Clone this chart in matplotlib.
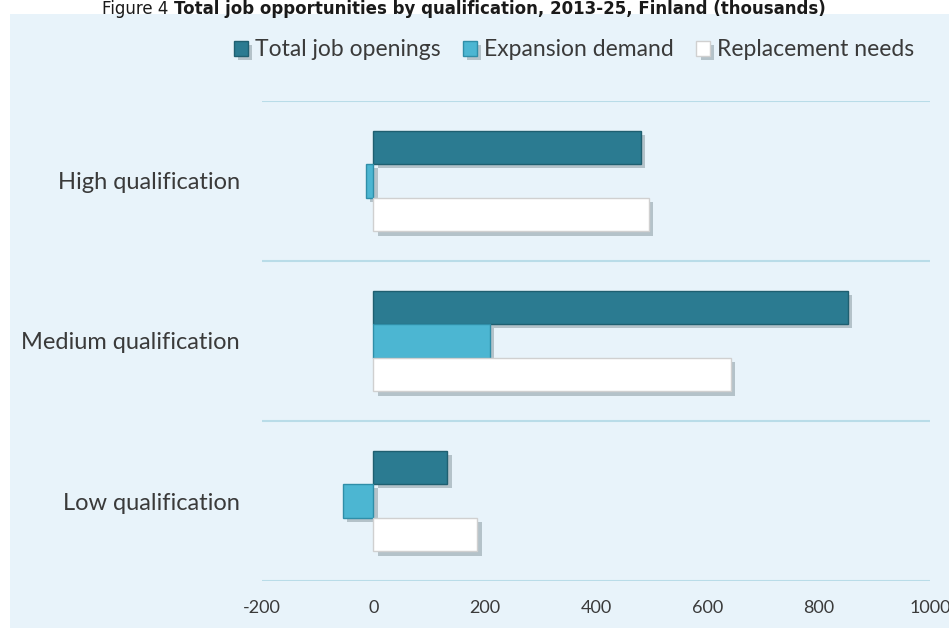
import matplotlib
matplotlib.use("Agg")
import matplotlib.pyplot as plt
import matplotlib.patheffects as pe
from matplotlib.patches import Rectangle
import numpy as np

categories = ["Low qualification", "Medium qualification", "High qualification"]
total_openings = [133, 853, 481]
expansion_demand = [-54, 210, -14]
replacement_needs = [187, 643, 495]
x_ticks = [-200, 0, 200, 400, 600, 800, 1000]

series_names = ["Total job openings", "Expansion demand", "Replacement needs"]
colors = ["#2b7b91", "#4cb6d2", "#ffffff"]
edge_colors = ["#1f5f70", "#2f8ea8", "#d0d0d0"]
bg = "#e8f3fa"
text_color = "#3a3a3a"
label_font = "Lato"

fig = plt.figure(figsize=(9.49, 6.28), dpi=100)
fig.patch.set_facecolor("white")
fig.add_artist(Rectangle((10 / 949, 0), 1, 1 - 14 / 628, transform=fig.transFigure,
                         facecolor=bg, edgecolor="none", zorder=0))

ax = fig.add_axes([262 / 949, 1 - 581 / 628, (930 - 262) / 949, (581 - 101) / 628])
ax.set_facecolor("none")

y = np.arange(len(categories))
h = 0.21
offsets = [h, 0, -h]
shadow = [pe.SimplePatchShadow(offset=(3, -3), shadow_rgbFace="#8a9aa2", alpha=0.55),
          pe.Normal()]
handles = []
for vals, off, c, ec, name in zip([total_openings, expansion_demand, replacement_needs],
                                  offsets, colors, edge_colors, series_names):
    bars = ax.barh(y + off, vals, height=h, color=c, edgecolor=ec, linewidth=1.0,
                   label=name, zorder=3)
    for b in bars:
        b.set_path_effects(shadow)
    handles.append(bars)

ax.set_xlim(-200, 1000)
ax.set_ylim(-0.5, len(categories) - 0.5)
ax.set_xticks(x_ticks)
ax.set_xticklabels([str(v) for v in x_ticks])
ax.set_yticks(y)
ax.set_yticklabels(categories)
ax.set_yticks(np.arange(len(categories) + 1) - 0.5, minor=True)
ax.grid(False)
ax.grid(True, which="minor", axis="y", color="#b9dce8", linewidth=1.5, zorder=1)
ax.tick_params(which="both", length=0)
ax.tick_params(axis="x", pad=14, labelsize=13, labelcolor=text_color)
ax.tick_params(axis="y", pad=16, labelsize=17, labelcolor=text_color)
for s in ax.spines.values():
    s.set_visible(False)
for lbl in ax.get_xticklabels() + ax.get_yticklabels():
    lbl.set_family(label_font)

leg = fig.legend(handles=handles, labels=series_names, loc="center",
                 bbox_to_anchor=(574 / 949, 1 - 50 / 628), ncol=3, frameon=False,
                 handlelength=0.6, handleheight=0.6, handletextpad=0.3,
                 columnspacing=1.0, prop={"family": label_font, "size": 16.5})
for t in leg.get_texts():
    t.set_color(text_color)

t1 = fig.text(102 / 949, 1 - 14 / 628, "Figure 4 ", fontsize=12, family="DejaVu Sans",
              color="#1a1a1a", va="baseline", ha="left")
ax.annotate("Total job opportunities by qualification, 2013-25, Finland (thousands)",
            xy=(1, 0), xycoords=t1, va="bottom", ha="left", fontsize=12,
            family="DejaVu Sans", fontweight="bold", color="#1a1a1a",
            annotation_clip=False)

fig.savefig("out.png", dpi=100)
